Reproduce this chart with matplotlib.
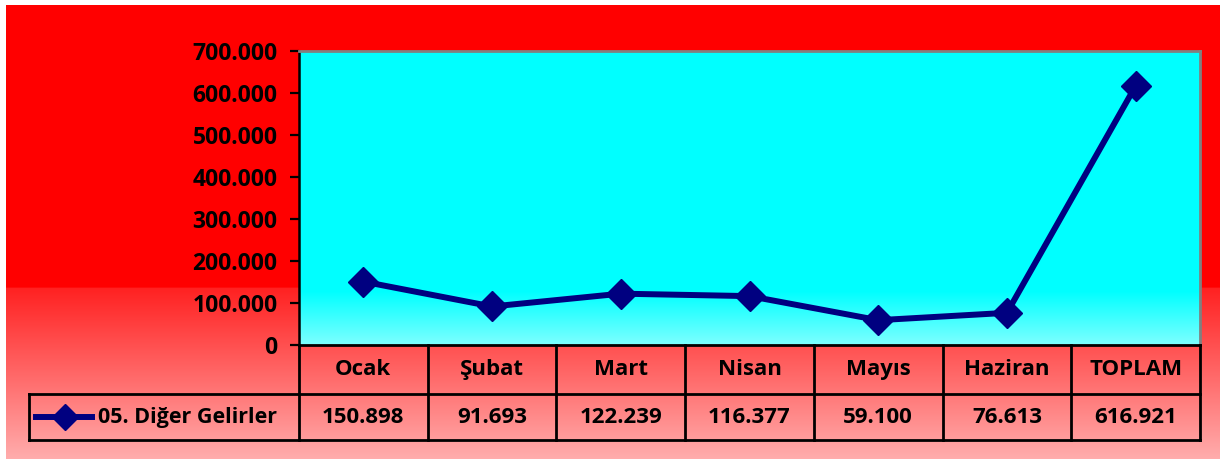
import matplotlib.pyplot as plt
import numpy as np
from matplotlib.lines import Line2D
from matplotlib.transforms import blended_transform_factory

months = ["Ocak", "Şubat", "Mart", "Nisan", "Mayıs", "Haziran", "TOPLAM"]
values = [150898, 91693, 122239, 116377, 59100, 76613, 616921]
series_name = "05. Diğer Gelirler"
y_ticks = [0, 100000, 200000, 300000, 400000, 500000, 600000, 700000]

W, H = 1220, 461
FONT = ["Open Sans", "DejaVu Sans"]
FS = 16.5
FS_TABLE = 16
FS_KEY = 15.5
NAVY = "#000080"


def fmt(v):
    return f"{v:,}".replace(",", ".")


fig = plt.figure(figsize=(W / 100, H / 100), dpi=100)
fig.patch.set_facecolor("white")

# background with red -> pink gradient
bg = fig.add_axes([6 / W, 1 - 459 / H, (W - 6) / W, (459 - 5) / H])
bg.set_axis_off()
n = 454
t = np.clip((np.arange(n) - 283) / (n - 283), 0, 1)
g = np.where(np.arange(n) < 283, 0.0, 0.13 + 0.55 * t)
img = np.ones((n, 2, 3))
img[:, :, 1] = g[:, None]
img[:, :, 2] = g[:, None]
bg.imshow(img, aspect="auto", extent=[0, 1, 0, 1], interpolation="bilinear")
bg.set_xlim(0, 1)
bg.set_ylim(0, 1)

# plot area
left, right, top, bottom = 299, 1200, 51, 345
ax = fig.add_axes([left / W, 1 - bottom / H, (right - left) / W, (bottom - top) / H])
ax.set_zorder(2)
m = 294
tc = np.clip((np.arange(m) - 240) / (m - 240), 0, 1)
cimg = np.ones((m, 2, 3))
cimg[:, :, 0] = (0.5 * tc)[:, None]
ax.imshow(cimg, aspect="auto", extent=[0, 7, 0, 700000], interpolation="bilinear", zorder=0)

x = np.arange(len(values)) + 0.5
ax.plot(x, values, color=NAVY, lw=4.3, marker="D", ms=15, mfc=NAVY, mec=NAVY,
        zorder=3, solid_joinstyle="miter")
ax.set_xlim(0, 7)
ax.set_ylim(0, 700000)
ax.set_yticks(y_ticks)
ax.set_yticklabels([fmt(v) for v in y_ticks], fontsize=FS, fontweight="bold", family=FONT)
ax.set_xticks([])
ax.tick_params(axis="y", direction="out", length=6.5, width=1.6, pad=9)
for side in ["top", "right"]:
    ax.spines[side].set_color("#808080")
    ax.spines[side].set_linewidth(2)
ax.spines["left"].set_linewidth(1.8)
ax.spines["bottom"].set_visible(False)

# data table below the plot
tr = blended_transform_factory(ax.transData, ax.transAxes)
h1, h2 = -0.167, -0.323
lx = -2.1
lw = 2.0
kw = dict(transform=tr, color="black", lw=lw, clip_on=False, zorder=4,
          solid_capstyle="projecting")
ax.add_line(Line2D([0, 7], [0, 0], **kw))
ax.add_line(Line2D([lx, 7], [h1, h1], **kw))
ax.add_line(Line2D([lx, 7], [h2, h2], **kw))
ax.add_line(Line2D([lx, lx], [h1, h2], **kw))
for i in range(len(months) + 1):
    ax.add_line(Line2D([i, i], [0, h2], **kw))

tkw = dict(transform=tr, ha="center", va="center", fontsize=FS_TABLE, fontweight="bold",
           family=FONT, clip_on=False)
for i, (mo, v) in enumerate(zip(months, values)):
    ax.text(i + 0.5, h1 / 2, mo, **tkw)
    ax.text(i + 0.5, (h1 + h2) / 2, fmt(v), **tkw)

# legend key inside the label cell
ky = (h1 + h2) / 2
ax.add_line(Line2D([-2.04, -1.61], [ky, ky], transform=tr, color=NAVY, lw=4.3,
                   clip_on=False, zorder=4))
ax.add_line(Line2D([-1.82], [ky], transform=tr, color=NAVY, marker="D", ms=13,
                   clip_on=False, zorder=4))
ax.text(-1.56, ky, series_name, transform=tr, ha="left", va="center", fontsize=FS_KEY,
        fontweight="bold", family=FONT, clip_on=False)

fig.savefig("out.png", dpi=100)
